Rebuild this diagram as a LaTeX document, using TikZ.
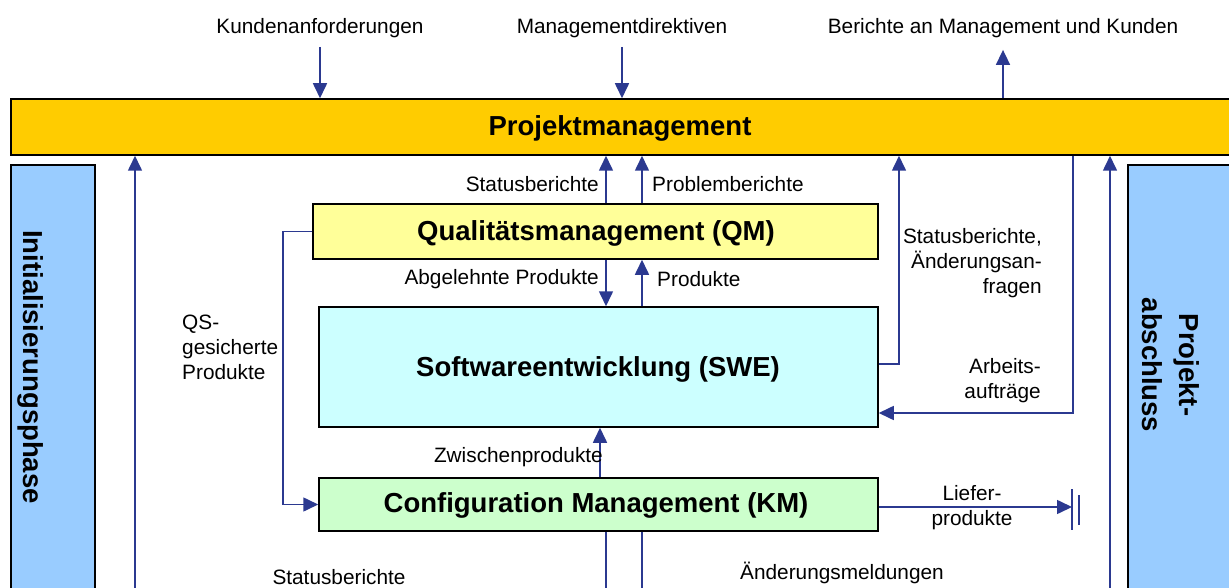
\documentclass[tikz,border=0pt]{standalone}
\usepackage{fontspec}
\setmainfont{Liberation Sans}
\usepackage{tikz}
\usetikzlibrary{positioning,arrows.meta,calc}

\definecolor{PM_COLOR}{HTML}{FFCC00}
\definecolor{PHASE_COLOR}{HTML}{99CCFF}
\definecolor{QM_COLOR}{HTML}{FFFF99}
\definecolor{SWE_COLOR}{HTML}{CCFFFF}
\definecolor{KM_COLOR}{HTML}{CCFFCC}
\definecolor{FLOW_COLOR}{HTML}{2B3990}

\tikzstyle{layer} = [rectangle, draw=black, line width=1.5pt, inner sep=0pt]
\tikzstyle{title} = [font=\fontsize{27.5}{37}\selectfont\bfseries]
\tikzstyle{lbl}   = [font=\fontsize{20.8}{25}\selectfont, inner sep=0pt]
\tikzstyle{flow}  = [draw=FLOW_COLOR, line width=1.6pt]
\tikzstyle{PM_LAYER}  = [layer, fill=PM_COLOR, minimum width=1221pt, minimum height=56pt]
\tikzstyle{PHASE}     = [layer, fill=PHASE_COLOR, minimum height=445pt]
\tikzstyle{QM_LAYER}  = [layer, title, fill=QM_COLOR, minimum width=565pt, minimum height=55pt]
\tikzstyle{SWE_LAYER} = [layer, title, fill=SWE_COLOR, minimum width=559pt, minimum height=120pt]
\tikzstyle{KM_LAYER}  = [layer, title, fill=KM_COLOR, minimum width=559pt, minimum height=53pt]

\begin{document}
\begin{tikzpicture}[x=1pt, y=-1pt, >={Triangle[width=14pt,length=15pt]}]
      \useasboundingbox (0,0) rectangle (1229,588);
      \clip (0,0) rectangle (1229,588);

      %%%%%%%%%%%%%%%%%%%%%%%%%%%%%%%%%%%%%%%%%%
      % PHASES AND LAYERS
      %%%%%%%%%%%%%%%%%%%%%%%%%%%%%%%%%%%%%%%%%%
      \node[PM_LAYER] (PM) at (621.5,127) {};
      \node[title] (PMT) at (620,128) {Projektmanagement};
      \node[PHASE, minimum width=84pt] (IP) at (53,387.5) {};
      \node[title, rotate=-90] (IPT) at (31,367) {Initialisierungsphase};
      \node[PHASE, minimum width=112pt] (PA) at (1184,387.5) {};
      \node[title, rotate=-90, align=center] (PAT) at (1171,365) {Projekt-\\abschluss};

      \node[QM_LAYER]  (QM)  at (595.5,231.5) {};
      \node[SWE_LAYER] (SWE) at (598.5,367)   {};
      \node[KM_LAYER]  (KM)  at (598.5,504.5) {};
      \node[title] (QMT)  at (596,233) {Qualitätsmanagement (QM)};
      \node[title] (SWET) at (598,369) {Softwareentwicklung (SWE)};
      \node[title] (KMT)  at (596,505) {Configuration Management (KM)};

      %%%%%%%%%%%%%%%%%%%%%%%%%%%%%%%%%%%%%%%%%%
      % INPUTS AND OUTPUTS
      %%%%%%%%%%%%%%%%%%%%%%%%%%%%%%%%%%%%%%%%%%
      \node[lbl] (KA) at (320,28)  {Kundenanforderungen};
      \node[lbl] (MD) at (622,28)  {Managementdirektiven};
      \node[lbl] (BA) at (1003,28) {Berichte an Management und Kunden};
      \draw[flow, ->] ([yshift=-9pt]KA.south) -- (KA.south |- PM.north);
      \draw[flow, ->] ([yshift=-9pt]MD.south) -- (MD.south |- PM.north);
      \draw[flow, ->] (BA.south |- PM.north) -- ([yshift=-12pt]BA.south);

      %%%%%%%%%%%%%%%%%%%%%%%%%%%%%%%%%%%%%%%%%%
      % FLOWS
      %%%%%%%%%%%%%%%%%%%%%%%%%%%%%%%%%%%%%%%%%%
      \coordinate (L1) at (606,0);
      \coordinate (L2) at (642,0);
      \coordinate (Z1) at (600,0);
      \coordinate (S1) at (899,0);
      \coordinate (A1) at (1073,0);
      \coordinate (LP) at (1072,507);
      \coordinate (V1) at (135,600);
      \coordinate (V2) at (1110,600);

      \draw[flow, ->] (QM.north -| L1) -- (PM.south -| L1);
      \draw[flow, ->] (QM.north -| L2) -- (PM.south -| L2);
      \draw[flow, ->] (QM.south -| L1) -- (SWE.north -| L1);
      \draw[flow, ->] (SWE.north -| L2) -- (QM.south -| L2);
      \draw[flow, ->] (KM.north -| Z1) -- (SWE.south -| Z1);
      \draw[flow, ->] (KM.east |- LP) -- (LP);
      \draw[flow, ->] (V1) -- (V1 |- PM.south);
      \draw[flow, ->] (V2) -- (V2 |- PM.south);
      \draw[flow, ->] (QM.west) -- ++(-29,0) |- (KM.west);
      \draw[flow, ->] ([yshift=3pt]SWE.east) -| (PM.south -| S1);
      \draw[flow, ->] (PM.south -| A1) |- ([yshift=-46pt]SWE.east);
      \draw[flow] (KM.south -| L1) -- ++(0,80);
      \draw[flow] (KM.south -| L2) -- ++(0,80);
      \draw[flow] (LP) ++(0,-18) -- ++(0,41);
      \draw[flow] ([xshift=7pt]LP) ++(0,-12) -- ++(0,30);

      \node[lbl, anchor=east] (SB1) at (599,184) {Statusberichte};
      \node[lbl, anchor=west] (PB)  at (652,184) {Problemberichte};
      \node[lbl, anchor=east] (AP)  at (599,279) {Abgelehnte Produkte};
      \node[lbl, anchor=west] (PR)  at (657,279) {Produkte};
      \node[lbl, anchor=west, align=left] (QS) at (182,347) {QS-\\gesicherte\\Produkte};
      \node[lbl, anchor=east, align=right] (SA) at (1042,263) {Statusberichte,\\Änderungsan-\\fragen};
      \node[lbl, anchor=east, align=right] (AA) at (1041,381) {Arbeits-\\aufträge};
      \node[lbl, anchor=east] (ZP) at (603,457) {Zwischenprodukte};
      \node[lbl, align=center] (LF) at (972,508) {Liefer-\\produkte};
      \node[lbl] (SB2) at (339,577) {Statusberichte};
      \node[lbl] (AM)  at (842,573) {Änderungsmeldungen};
\end{tikzpicture}
\end{document}
